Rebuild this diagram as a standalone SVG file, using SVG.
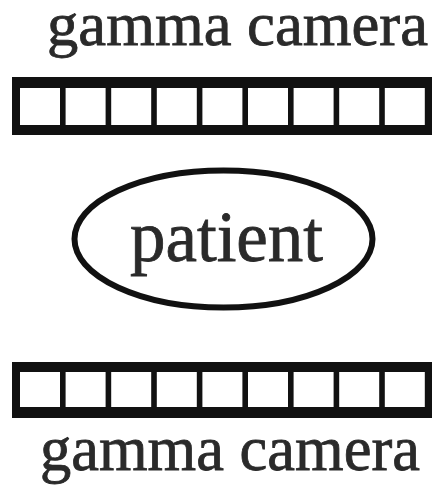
<svg xmlns="http://www.w3.org/2000/svg" width="435" height="486" viewBox="0 0 435 486">
<style>
.lbl{font-family:"Liberation Serif","Times New Roman",serif;fill:#2a2a2a;stroke:#2a2a2a;stroke-width:0.8;text-anchor:middle}
.frame{fill:#111}
.cell{fill:#fff}
</style>
<rect width="435" height="486" fill="#fff"/>
<g id="camera-top">
<text class="lbl" x="237.5" y="45" font-size="62" textLength="381" lengthAdjust="spacingAndGlyphs">gamma camera</text>
<rect class="frame" x="12" y="77" width="420" height="58"/>
<g id="cells-top">
<rect class="cell" x="20" y="88" width="40" height="37"/>
<rect class="cell" x="65.6" y="88" width="40" height="37"/>
<rect class="cell" x="111.2" y="88" width="40" height="37"/>
<rect class="cell" x="156.8" y="88" width="40" height="37"/>
<rect class="cell" x="202.4" y="88" width="40" height="37"/>
<rect class="cell" x="248" y="88" width="40" height="37"/>
<rect class="cell" x="293.6" y="88" width="40" height="37"/>
<rect class="cell" x="339.2" y="88" width="40" height="37"/>
<rect class="cell" x="384.8" y="88" width="40" height="37"/>
</g>
</g>
<g id="patient">
<ellipse cx="223.5" cy="239" rx="149" ry="68.5" fill="none" stroke="#111" stroke-width="6"/>
<text class="lbl" x="226.5" y="261" font-size="72" textLength="193" lengthAdjust="spacingAndGlyphs">patient</text>
</g>
<g id="camera-bottom">
<rect class="frame" x="12" y="362" width="420" height="56"/>
<g id="cells-bottom">
<rect class="cell" x="20" y="372" width="40" height="35"/>
<rect class="cell" x="65.6" y="372" width="40" height="35"/>
<rect class="cell" x="111.2" y="372" width="40" height="35"/>
<rect class="cell" x="156.8" y="372" width="40" height="35"/>
<rect class="cell" x="202.4" y="372" width="40" height="35"/>
<rect class="cell" x="248" y="372" width="40" height="35"/>
<rect class="cell" x="293.6" y="372" width="40" height="35"/>
<rect class="cell" x="339.2" y="372" width="40" height="35"/>
<rect class="cell" x="384.8" y="372" width="40" height="35"/>
</g>
<text class="lbl" x="230" y="470" font-size="63" textLength="380" lengthAdjust="spacingAndGlyphs">gamma camera</text>
</g>
<g id="connectors"/>
</svg>
